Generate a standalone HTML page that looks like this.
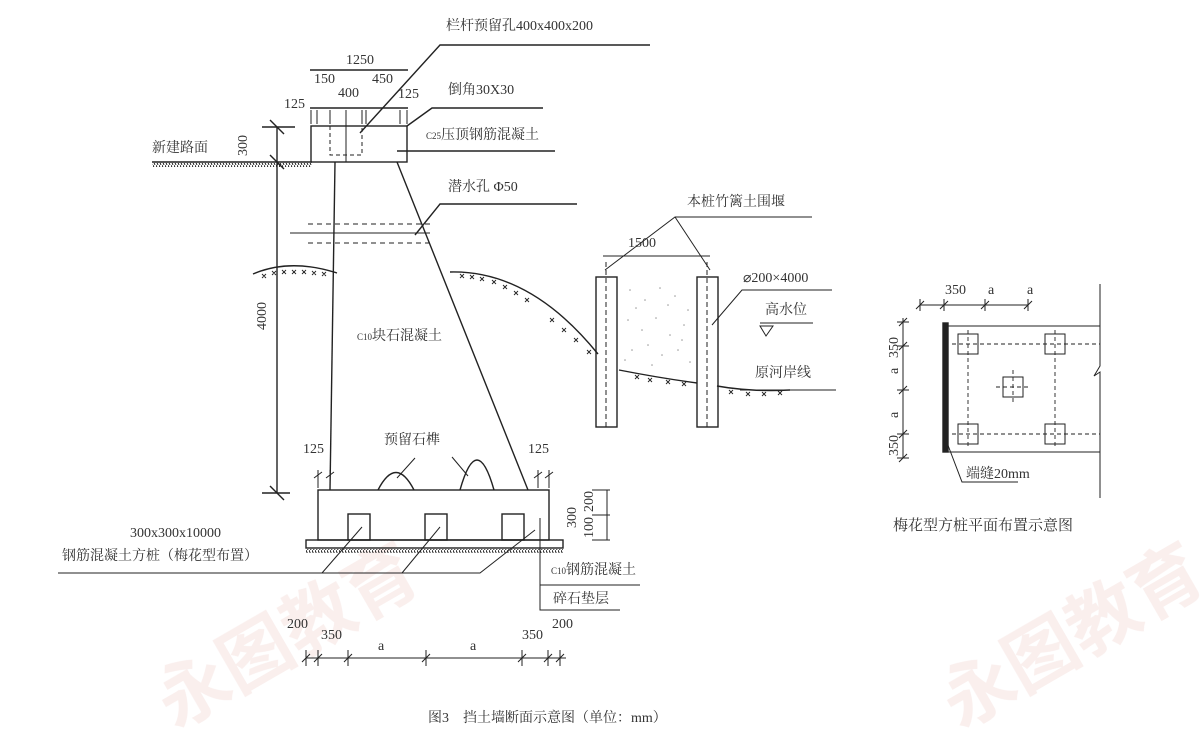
<!DOCTYPE html>
<html><head><meta charset="utf-8"><style>
html,body{margin:0;padding:0;background:#fff;}
svg{display:block}
text{font-family:"Liberation Serif","Noto Serif CJK SC","Noto Sans CJK SC",serif;fill:#333;}
</style></head><body>
<svg width="1200" height="750" viewBox="0 0 1200 750" xmlns="http://www.w3.org/2000/svg">
<defs>
<pattern id="hatch" width="3" height="5" patternUnits="userSpaceOnUse"><line x1="0" y1="0" x2="2" y2="5" stroke="#222" stroke-width="1"/></pattern>
</defs>
<!-- watermarks -->
<g opacity="0.1" font-weight="bold">
<text x="0" y="0" transform="translate(175,730) rotate(-30)" font-size="72" style="fill:#c85a4a;font-family:'Noto Sans CJK SC',sans-serif">永图教育</text>
<text x="0" y="0" transform="translate(960,730) rotate(-30)" font-size="72" style="fill:#c85a4a;font-family:'Noto Sans CJK SC',sans-serif">永图教育</text>
</g>
<g stroke="#222" stroke-width="1.4" fill="none">
<polyline points="650,45 440,45 360,133"/>
<polyline points="543,108 432,108 407,126"/>
<line x1="397" y1="151" x2="555" y2="151"/>
<polyline points="577,204 440,204 415,235"/>
<line x1="310" y1="70" x2="408" y2="70"/>
<line x1="310" y1="108" x2="408" y2="108"/>
<g stroke-width="1">
<line x1="311" y1="110" x2="311" y2="124"/><line x1="317" y1="110" x2="317" y2="124"/><line x1="330" y1="110" x2="330" y2="124"/>
<line x1="346" y1="110" x2="346" y2="162"/><line x1="362" y1="110" x2="362" y2="124"/><line x1="366" y1="110" x2="366" y2="124"/><line x1="400" y1="110" x2="400" y2="124"/><line x1="407" y1="110" x2="407" y2="124"/>
</g>
<rect x="311" y="126" width="96" height="36"/>
<polyline points="330,126 330,155 362,155 362,126" stroke-dasharray="4,3" stroke-width="1"/>
<line x1="152" y1="162" x2="312" y2="162"/>
<rect x="152" y="163" width="160" height="4" fill="url(#hatch)" stroke="none"/>
<line x1="277" y1="127" x2="277" y2="493"/>
<line x1="262" y1="127" x2="295" y2="127"/>
<line x1="270" y1="120" x2="284" y2="134"/><line x1="270" y1="155" x2="284" y2="169"/><line x1="270" y1="486" x2="284" y2="500"/>
<line x1="262" y1="493" x2="290" y2="493"/>
<line x1="335" y1="162" x2="330" y2="490"/>
<line x1="397" y1="162" x2="528" y2="490"/>
<line x1="308" y1="224" x2="430" y2="224" stroke-dasharray="5,4" stroke-width="1"/>
<line x1="308" y1="243" x2="430" y2="243" stroke-dasharray="5,4" stroke-width="1"/>
<line x1="290" y1="233" x2="430" y2="233" stroke-width="1"/>
<path d="M253,274 Q290,258 337,273"/>
<path d="M450,272 Q530,270 598,354"/>
<path d="M619,370 Q660,378 697,383"/>
<path d="M717,386 Q750,392 790,390"/>
<g stroke-width="0.9">
<path d="M262,274l4,4m0,-4l-4,4 M272,271l4,4m0,-4l-4,4 M282,270l4,4m0,-4l-4,4 M292,270l4,4m0,-4l-4,4 M302,270l4,4m0,-4l-4,4 M312,271l4,4m0,-4l-4,4 M322,272l4,4m0,-4l-4,4"/>
<path d="M460,274l4,4m0,-4l-4,4 M470,275l4,4m0,-4l-4,4 M480,277l4,4m0,-4l-4,4 M492,280l4,4m0,-4l-4,4 M503,285l4,4m0,-4l-4,4 M514,291l4,4m0,-4l-4,4 M525,298l4,4m0,-4l-4,4 M550,318l4,4m0,-4l-4,4 M562,328l4,4m0,-4l-4,4 M574,338l4,4m0,-4l-4,4 M587,350l4,4m0,-4l-4,4"/>
<path d="M635,375l4,4m0,-4l-4,4 M648,378l4,4m0,-4l-4,4 M666,380l4,4m0,-4l-4,4 M682,382l4,4m0,-4l-4,4 M729,390l4,4m0,-4l-4,4 M746,392l4,4m0,-4l-4,4 M762,392l4,4m0,-4l-4,4 M778,391l4,4m0,-4l-4,4"/>
</g>
<rect x="596" y="277" width="21" height="150"/>
<rect x="697" y="277" width="21" height="150"/>
<line x1="606" y1="262" x2="606" y2="427" stroke-dasharray="5,3" stroke-width="1"/>
<line x1="707" y1="262" x2="707" y2="427" stroke-dasharray="5,3" stroke-width="1"/>
<line x1="603" y1="256" x2="710" y2="256" stroke-width="1"/>
<polyline points="812,217 675,217 605,270" stroke-width="1"/>
<line x1="675" y1="217" x2="710" y2="270" stroke-width="1"/>
<polyline points="832,290 742,290 712,325" stroke-width="1"/>
<line x1="760" y1="323" x2="813" y2="323" stroke-width="1"/>
<polygon points="760,326 773,326 766,336" stroke-width="1"/>
<line x1="740" y1="390" x2="836" y2="390" stroke-width="1"/>
<rect x="318" y="490" width="231" height="50"/>
<rect x="306" y="540" width="257" height="8"/>
<rect x="306" y="549" width="257" height="4" fill="url(#hatch)" stroke="none"/>
<rect x="348" y="514" width="22" height="26"/>
<rect x="425" y="514" width="22" height="26"/>
<rect x="502" y="514" width="22" height="26"/>
<path d="M378,490 Q396,455 414,490"/>
<path d="M460,490 Q477,430 494,490"/>
<line x1="415" y1="458" x2="397" y2="478" stroke-width="1"/>
<line x1="452" y1="457" x2="468" y2="476" stroke-width="1"/>
<g stroke-width="1">
<line x1="318" y1="470" x2="318" y2="488"/><line x1="330" y1="470" x2="330" y2="488"/>
<line x1="538" y1="470" x2="538" y2="488"/><line x1="549" y1="470" x2="549" y2="488"/>
<path d="M314,478l8,-6 M326,478l8,-6 M534,478l8,-6 M545,478l8,-6"/>
</g>
<line x1="607" y1="490" x2="607" y2="540" stroke-width="1"/>
<line x1="592" y1="490" x2="610" y2="490" stroke-width="1"/><line x1="592" y1="515" x2="610" y2="515" stroke-width="1"/><line x1="592" y1="540" x2="610" y2="540" stroke-width="1"/>
<polyline points="58,573 480,573 535,530" stroke-width="1"/>
<line x1="322" y1="573" x2="362" y2="527" stroke-width="1"/>
<line x1="402" y1="573" x2="440" y2="527" stroke-width="1"/>
<polyline points="540,518 540,610 620,610" stroke-width="1"/>
<line x1="540" y1="585" x2="640" y2="585" stroke-width="1"/>
<line x1="306" y1="658" x2="566" y2="658" stroke-width="1"/>
<g stroke-width="1">
<path d="M306,650v16 M318,650v16 M348,650v16 M426,650v16 M522,650v16 M548,650v16 M560,650v16"/>
<path d="M302,662l8,-8 M314,662l8,-8 M344,662l8,-8 M422,662l8,-8 M518,662l8,-8 M544,662l8,-8 M556,662l8,-8"/>
</g>
<line x1="920" y1="305" x2="1028" y2="305" stroke-width="1"/>
<path d="M920,299v12 M944,299v12 M985,299v12 M1028,299v12 M916,309l8,-8 M940,309l8,-8 M981,309l8,-8 M1024,309l8,-8" stroke-width="1"/>
<rect x="943" y="323" width="5" height="129" fill="#222"/>
<line x1="948" y1="326" x2="1100" y2="326" stroke-width="1"/>
<line x1="948" y1="452" x2="1100" y2="452" stroke-width="1"/>
<polyline points="1100,284 1100,366 1094,376 1100,372 1100,498" stroke-width="1"/>
<g stroke-width="1">
<rect x="958" y="334" width="20" height="20"/><rect x="1045" y="334" width="20" height="20"/>
<rect x="1003" y="377" width="20" height="20"/>
<rect x="958" y="424" width="20" height="20"/><rect x="1045" y="424" width="20" height="20"/>
</g>
<g stroke-dasharray="4,3" stroke-width="0.9">
<line x1="952" y1="344" x2="1100" y2="344"/><line x1="952" y1="434" x2="1100" y2="434"/>
<line x1="968" y1="330" x2="968" y2="448"/><line x1="1055" y1="330" x2="1055" y2="448"/>
<line x1="996" y1="387" x2="1030" y2="387"/><line x1="1013" y1="370" x2="1013" y2="404"/>
</g>
<line x1="903" y1="318" x2="903" y2="458" stroke-width="1"/>
<path d="M897,322h12 M897,346h12 M897,390h12 M897,434h12 M897,458h12 M899,326l8,-8 M899,350l8,-8 M899,394l8,-8 M899,438l8,-8 M899,462l8,-8" stroke-width="1"/>
<polyline points="946,440 962,482 1018,482" stroke-width="1"/>
</g>
<g font-size="14">
<text x="446" y="30">栏杆预留孔400x400x200</text>
<text x="346" y="64">1250</text>
<text x="314" y="83">150</text><text x="372" y="83">450</text>
<text x="338" y="97">400</text><text x="284" y="108">125</text><text x="398" y="98">125</text>
<text x="448" y="94">倒角30X30</text>
<text x="426" y="139"><tspan font-size="9">C25</tspan>压顶钢筋混凝土</text>
<text x="152" y="152">新建路面</text>
<text transform="translate(247,156) rotate(-90)">300</text>
<text x="448" y="191">潜水孔 Φ50</text>
<text transform="translate(266,330) rotate(-90)">4000</text>
<text x="357" y="340"><tspan font-size="9">C10</tspan>块石混凝土</text>
<text x="687" y="206">本桩竹篱土围堰</text>
<text x="628" y="247">1500</text>
<text x="743" y="282">⌀200×4000</text>
<text x="765" y="314">高水位</text>
<text x="755" y="377">原河岸线</text>
<text x="384" y="444">预留石榫</text>
<text x="303" y="453">125</text><text x="528" y="453">125</text>
<text transform="translate(576,528) rotate(-90)">300</text>
<text transform="translate(593,512) rotate(-90)">200</text>
<text transform="translate(593,538) rotate(-90)">100</text>
<text x="130" y="537">300x300x10000</text>
<text x="62" y="560">钢筋混凝土方桩（梅花型布置）</text>
<text x="551" y="574"><tspan font-size="9">C10</tspan>钢筋混凝土</text>
<text x="553" y="603">碎石垫层</text>
<text x="287" y="628">200</text><text x="321" y="639">350</text>
<text x="378" y="650">a</text><text x="470" y="650">a</text>
<text x="522" y="639">350</text><text x="552" y="628">200</text>
<text x="428" y="722">图3　挡土墙断面示意图（单位：mm）</text>
<text x="945" y="294">350</text><text x="988" y="294">a</text><text x="1027" y="294">a</text>
<text transform="translate(898,358) rotate(-90)">350</text>
<text transform="translate(898,374) rotate(-90)">a</text>
<text transform="translate(898,418) rotate(-90)">a</text>
<text transform="translate(898,456) rotate(-90)">350</text>
<text x="966" y="478">端缝20mm</text>
<text x="893" y="530" font-size="15">梅花型方桩平面布置示意图</text>
</g>
<g fill="#999">
<circle cx="630" cy="290" r="0.8"/><circle cx="645" cy="300" r="0.8"/><circle cx="660" cy="288" r="0.8"/><circle cx="675" cy="296" r="0.8"/><circle cx="688" cy="310" r="0.8"/>
<circle cx="628" cy="320" r="0.8"/><circle cx="642" cy="330" r="0.8"/><circle cx="656" cy="318" r="0.8"/><circle cx="670" cy="335" r="0.8"/><circle cx="684" cy="325" r="0.8"/>
<circle cx="632" cy="350" r="0.8"/><circle cx="648" cy="345" r="0.8"/><circle cx="662" cy="355" r="0.8"/><circle cx="678" cy="350" r="0.8"/><circle cx="690" cy="362" r="0.8"/>
<circle cx="636" cy="308" r="0.8"/><circle cx="652" cy="365" r="0.8"/><circle cx="668" cy="305" r="0.8"/><circle cx="682" cy="340" r="0.8"/><circle cx="625" cy="360" r="0.8"/>
</g>
</svg>
</body></html>
